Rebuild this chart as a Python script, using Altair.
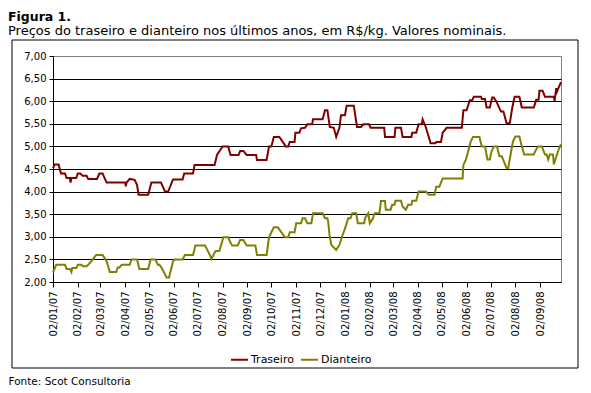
import altair as alt
import pandas as pd

# Days since 02/01/2007 and price (R$/kg)
traseiro_days = [0, 2, 7, 10, 15, 17, 21, 22, 23, 29, 31, 34, 37, 42, 44, 55, 58, 62, 67, 90,
                 91, 92, 96, 102, 105, 107, 119, 123, 135, 140, 144, 150, 162, 164, 175, 177, 202, 205, 212, 219,
                 222, 232, 234, 238, 242, 254, 255, 267, 270, 273, 276, 283, 291, 294, 296, 302, 303, 308, 310, 315,
                 318, 324, 325, 337, 340, 343, 346, 351, 354, 358, 360, 365, 367, 376, 380, 385, 388, 395, 397, 414,
                 415, 427, 428, 435, 437, 448, 449, 454, 457, 461, 462, 466, 472, 478, 479, 485, 487, 492, 511, 513,
                 517, 521, 524, 526, 535, 536, 540, 542, 546, 549, 551, 554, 560, 563, 567, 571, 574, 577, 583, 586,
                 601, 604, 607, 608, 612, 615, 626, 627, 629, 630, 632, 635]
traseiro_vals = [4.52, 4.60, 4.60, 4.40, 4.40, 4.30, 4.30, 4.20, 4.30, 4.30, 4.40, 4.40, 4.35, 4.35, 4.28, 4.28, 4.40, 4.40, 4.20, 4.20,
                 4.12, 4.20, 4.28, 4.26, 4.15, 3.93, 3.93, 4.20, 4.20, 4.00, 4.00, 4.27, 4.27, 4.40, 4.40, 4.59, 4.59, 4.81, 5.00, 5.00,
                 4.81, 4.81, 4.90, 4.90, 4.81, 4.81, 4.70, 4.70, 5.00, 5.00, 5.21, 5.21, 5.00, 5.00, 5.10, 5.10, 5.30, 5.30, 5.40, 5.41,
                 5.49, 5.49, 5.60, 5.60, 5.80, 5.80, 5.43, 5.41, 5.21, 5.41, 5.69, 5.69, 5.90, 5.90, 5.43, 5.43, 5.49, 5.49, 5.41, 5.41,
                 5.21, 5.21, 5.41, 5.41, 5.21, 5.21, 5.30, 5.30, 5.49, 5.49, 5.60, 5.43, 5.07, 5.07, 5.10, 5.10, 5.30, 5.41, 5.41, 5.80,
                 5.80, 6.02, 6.02, 6.10, 6.10, 6.05, 6.05, 5.86, 5.86, 6.08, 6.08, 6.00, 5.77, 5.77, 5.51, 5.51, 5.85, 6.10, 6.10, 5.86,
                 5.86, 6.03, 6.03, 6.23, 6.23, 6.10, 6.10, 6.00, 6.29, 6.21, 6.30, 6.42]

dianteiro_days = [0, 4, 15, 17, 21, 23, 24, 29, 31, 35, 38, 42, 44, 48, 54, 62, 67, 71, 79, 81,
                  83, 86, 96, 98, 105, 108, 119, 122, 128, 131, 133, 136, 142, 145, 149, 150, 152, 162, 165, 175,
                  178, 190, 196, 198, 203, 208, 213, 219, 221, 224, 231, 234, 238, 242, 253, 255, 267, 270, 276, 281,
                  290, 294, 296, 302, 304, 310, 312, 315, 318, 323, 325, 337, 340, 343, 344, 346, 348, 354, 358, 361,
                  365, 369, 372, 374, 379, 381, 389, 390, 394, 396, 400, 402, 408, 410, 415, 416, 422, 424, 427, 428,
                  435, 437, 441, 444, 448, 449, 454, 457, 466, 470, 477, 479, 483, 487, 512, 513, 516, 520, 522, 525,
                  533, 536, 540, 543, 546, 548, 551, 555, 558, 561, 567, 569, 572, 575, 578, 583, 586, 589, 601, 603,
                  606, 611, 615, 617, 619, 621, 625, 626, 628, 632, 635]
dianteiro_vals = [2.21, 2.38, 2.38, 2.29, 2.29, 2.22, 2.31, 2.31, 2.38, 2.38, 2.35, 2.35, 2.38, 2.46, 2.60, 2.60, 2.46, 2.22, 2.22, 2.32,
                  2.32, 2.38, 2.38, 2.50, 2.50, 2.29, 2.29, 2.50, 2.50, 2.38, 2.38, 2.31, 2.10, 2.10, 2.38, 2.46, 2.50, 2.50, 2.60, 2.60,
                  2.81, 2.81, 2.60, 2.51, 2.68, 2.69, 2.99, 2.99, 2.90, 2.81, 2.81, 2.93, 2.93, 2.81, 2.81, 2.60, 2.60, 2.99, 3.21, 3.21,
                  2.99, 2.99, 3.10, 3.10, 3.30, 3.30, 3.41, 3.41, 3.30, 3.30, 3.52, 3.52, 3.41, 3.41, 3.33, 2.99, 2.82, 2.71, 2.82, 2.99,
                  3.18, 3.41, 3.41, 3.52, 3.52, 3.30, 3.30, 3.41, 3.52, 3.30, 3.41, 3.52, 3.52, 3.79, 3.79, 3.60, 3.60, 3.71, 3.71, 3.80,
                  3.80, 3.67, 3.60, 3.71, 3.71, 3.80, 3.80, 4.00, 4.00, 3.93, 3.93, 4.11, 4.11, 4.29, 4.29, 4.59, 4.70, 4.96, 5.10, 5.21,
                  5.21, 5.00, 5.00, 4.71, 4.71, 4.88, 5.00, 5.00, 4.78, 4.78, 4.52, 4.52, 4.82, 5.11, 5.22, 5.22, 5.00, 4.82, 4.82, 4.90,
                  5.00, 5.00, 4.82, 4.82, 4.71, 4.82, 4.82, 4.60, 4.71, 4.93, 5.05]

series_names = ["Traseiro", "Dianteiro"]
series_colors = ["#800000", "#808000"]
y_ticks = [2.0, 2.5, 3.0, 3.5, 4.0, 4.5, 5.0, 5.5, 6.0, 6.5, 7.0]
tick_months = [(2007, m) for m in range(1, 13)] + [(2008, m) for m in range(1, 10)]

start = pd.Timestamp("2007-01-02")
df = pd.concat([
    pd.DataFrame({"data": start + pd.to_timedelta(traseiro_days, unit="D"),
                  "valor": traseiro_vals, "serie": "Traseiro"}),
    pd.DataFrame({"data": start + pd.to_timedelta(dianteiro_days, unit="D"),
                  "valor": dianteiro_vals, "serie": "Dianteiro"}),
])

FONT = "DejaVu Sans"
W, H = 508, 226

x_enc = alt.X(
    "data:T",
    scale=alt.Scale(domain=[alt.DateTime(year=2007, month=1, date=2),
                            alt.DateTime(year=2008, month=9, date=28)]),
    axis=alt.Axis(
        values=[alt.DateTime(year=y, month=m, date=2) for (y, m) in tick_months],
        format="%d/%m/%y", labelAngle=270, labelAlign="right", labelBaseline="middle",
        labelFont=FONT, labelFontSize=10, labelColor="black", labelPadding=4,
        labelOverlap=False, labelFlush=False,
        tickColor="black", tickSize=5, domainColor="black", grid=False,
        title="Fonte: Scot Consultoria", titleFont=FONT, titleFontSize=10.5,
        titleFontWeight="normal", titleColor="black", titleX=-45, titleY=99,
        titleAlign="left", titleBaseline="middle", titleAngle=0,
    ),
)
y_enc = alt.Y(
    "valor:Q",
    scale=alt.Scale(domain=[2, 7], nice=False, zero=False),
    axis=alt.Axis(
        values=y_ticks, labelExpr="replace(format(datum.value, '.2f'), '.', ',')",
        labelFont=FONT, labelFontSize=10, labelColor="black", labelPadding=3,
        tickColor="black", tickSize=4, domainColor="black",
        grid=True, gridColor=alt.condition("datum.value >= 7", alt.value("#808080"), alt.value("black")),
        gridWidth=1, title=None,
    ),
)

frame = alt.Chart(pd.DataFrame({"k": [0]})).mark_rect(
    fillOpacity=0, stroke="black", strokeWidth=1
).encode(x=alt.value(-41), x2=alt.value(525), y=alt.value(-16), y2=alt.value(312))

lines = alt.Chart(df).mark_line(strokeWidth=2).encode(
    x=x_enc, y=y_enc,
    color=alt.Color("serie:N", sort=series_names,
                    scale=alt.Scale(domain=series_names, range=series_colors),
                    legend=alt.Legend(orient="none", legendX=177, legendY=294, direction="horizontal",
                                      title=None, symbolType="stroke", symbolSize=289, symbolStrokeWidth=2,
                                      labelFont=FONT, labelFontSize=11, labelColor="black",
                                      columnPadding=3, labelOffset=2, padding=0)),
    order=alt.Order("data:T"),
)

chart = alt.layer(frame, lines).properties(
    width=W, height=H,
    autosize=alt.AutoSizeParams(type="none"),
    padding={"left": 45, "top": 48, "right": 22, "bottom": 103},
    title=alt.TitleParams(
        text="Figura 1.", subtitle="Preços do traseiro e dianteiro nos últimos anos, em R$/kg. Valores nominais.",
        anchor="start", frame="group", dx=-45, offset=2,
        font=FONT, fontSize=12.5, fontWeight="bold", color="black",
        subtitleFont=FONT, subtitleFontSize=13, subtitleColor="black", subtitlePadding=1.5,
    ),
).configure_view(stroke="#808080", strokeWidth=1)

chart.save("out.html", embed_options={"renderer": "svg", "actions": False})
